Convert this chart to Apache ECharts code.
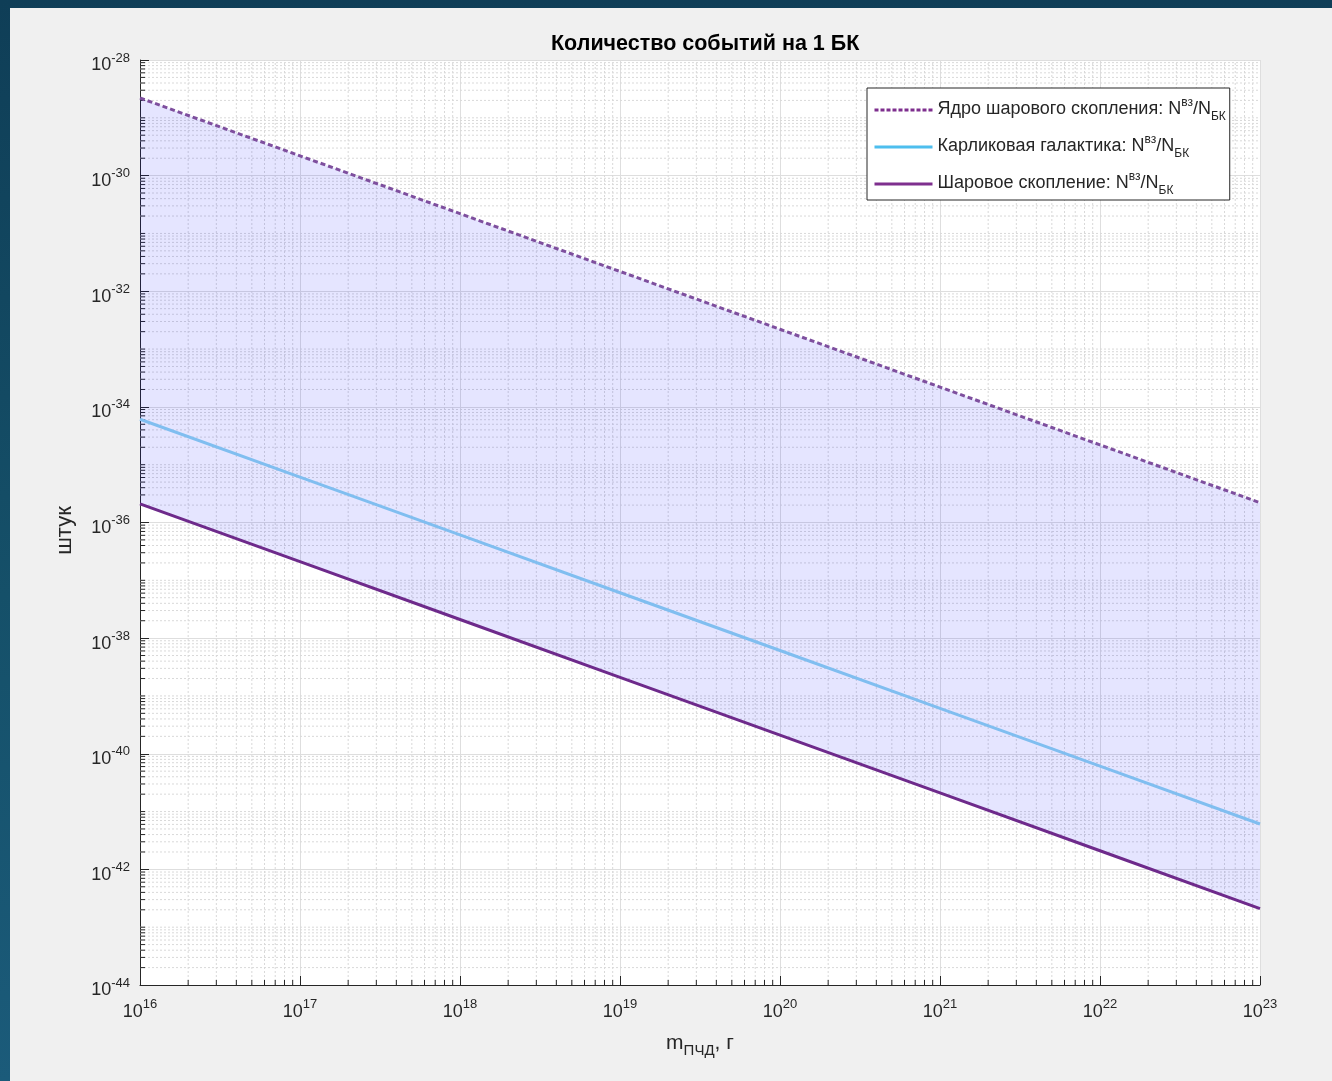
<!DOCTYPE html>
<html><head><meta charset="utf-8">
<script src="https://cdn.jsdelivr.net/npm/echarts@6/dist/echarts.min.js"></script>
<style>
html,body{margin:0;padding:0;width:1332px;height:1081px;overflow:hidden;background:linear-gradient(180deg,#0f3e57 0%,#155069 55%,#1b5b7a 100%);}
#chart{position:absolute;left:10px;top:8px;width:1322px;height:1073px;}
</style></head><body><div id="chart"></div>
<script>
// Mass of PBH, g
const massG = [1e16, 1e17, 1e18, 1e19, 1e20, 1e21, 1e22, 1e23];
// Events per 1 BK
const coreCluster     = [2.2e-29, 2.2e-30, 2.2e-31, 2.2e-32, 2.2e-33, 2.2e-34, 2.2e-35, 2.2e-36];
const dwarfGalaxy     = [6.1e-35, 6.1e-36, 6.1e-37, 6.1e-38, 6.1e-39, 6.1e-40, 6.1e-41, 6.1e-42];
const globularCluster = [2.1e-36, 2.1e-37, 2.1e-38, 2.1e-39, 2.1e-40, 2.1e-41, 2.1e-42, 2.1e-43];
const seriesNames = [
  'Ядро шарового скопления',
  'Карликовая галактика',
  'Шаровое скопление'
];
const titleText = 'Количество событий на 1 БК';
// axis ranges (decade exponents)
const xDecades = [16, 17, 18, 19, 20, 21, 22, 23];
const yDecades = [-44, -43, -42, -41, -40, -39, -38, -37, -36, -35, -34, -33, -32, -31, -30, -29, -28];

const FONT = '"Liberation Sans", Arial, Helvetica, sans-serif';
const TXT = '#262626';
const lg = Math.log10;

// the axes are logarithmic: positions go through log10 before the value axes
const pairs = ys => massG.map((x, i) => [lg(x), lg(ys[i])]);

const chart = echarts.init(document.getElementById('chart'));

function minorGrid(params, api) {
  const children = [];
  const xmin = xDecades[0], xmax = xDecades[xDecades.length - 1];
  const ymin = yDecades[0], ymax = yDecades[yDecades.length - 1];
  const dash = { stroke: '#d9d9d9', lineWidth: 1, lineDash: [2, 2] };
  const tick = { stroke: TXT, lineWidth: 1 };
  for (let d = 0; d < xDecades.length - 1; d++) {
    for (let k = 2; k <= 9; k++) {
      const v = lg(k * Math.pow(10, xDecades[d]));
      const a = api.coord([v, ymin]), b = api.coord([v, ymax]);
      children.push({ type: 'line', shape: { x1: a[0], y1: a[1], x2: b[0], y2: b[1] }, style: dash, silent: true });
      children.push({ type: 'line', shape: { x1: a[0], y1: a[1], x2: a[0], y2: a[1] - 5 }, style: tick, silent: true });
    }
  }
  for (let d = 0; d < yDecades.length - 1; d++) {
    for (let k = 1; k <= 9; k++) {
      if (k === 1 && yDecades[d] % 2 === 0) continue;
      const v = lg(k * Math.pow(10, yDecades[d]));
      const a = api.coord([xmin, v]), b = api.coord([xmax, v]);
      children.push({ type: 'line', shape: { x1: a[0], y1: a[1], x2: b[0], y2: b[1] }, style: dash, silent: true });
      children.push({ type: 'line', shape: { x1: a[0], y1: a[1], x2: a[0] + 5, y2: a[1] }, style: tick, silent: true });
    }
  }
  return { type: 'group', children };
}

function band(params, api) {
  const pts = [];
  for (let i = 0; i < massG.length; i++) pts.push(api.coord([lg(massG[i]), lg(coreCluster[i])]));
  for (let i = massG.length - 1; i >= 0; i--) pts.push(api.coord([lg(massG[i]), lg(globularCluster[i])]));
  return { type: 'polygon', shape: { points: pts }, style: { fill: 'rgba(0,0,255,0.1)' }, silent: true };
}

const supLabel = v => '{b|10}{e|' + Math.round(v) + '}';
const tickRich = {
  b: { fontSize: 18, fontFamily: FONT, color: TXT, lineHeight: 23, verticalAlign: 'bottom' },
  e: { fontSize: 13, fontFamily: FONT, color: TXT, lineHeight: 14, verticalAlign: 'top' }
};

const legendRich = {
  n: { fontSize: 18, fontFamily: FONT, color: TXT, lineHeight: 26, verticalAlign: 'bottom', padding: [0, 0, 5, 0] },
  sup: { fontSize: 12, fontFamily: FONT, color: TXT, lineHeight: 14, verticalAlign: 'top' },
  sub: { fontSize: 12, fontFamily: FONT, color: TXT, lineHeight: 14, verticalAlign: 'bottom' }
};

const option = {
  backgroundColor: '#f0f0f0',
  animation: false,
  title: {
    text: titleText,
    left: 536, top: 20,
    textStyle: { fontFamily: FONT, fontSize: 21.5, fontWeight: 'bold', color: '#000' }
  },
  grid: { left: 130, top: 52, right: 72, bottom: 96, containLabel: false, show: true, backgroundColor: '#ffffff', borderWidth: 0 },
  legend: {
    orient: 'vertical',
    left: 857, top: 80,
    padding: [9, 4, 3, 6],
    itemGap: 11,
    itemWidth: 58, itemHeight: 14,
    backgroundColor: '#ffffff',
    borderColor: '#262626', borderWidth: 1, borderRadius: 0,
    itemStyle: { opacity: 0 },
    data: [
      { name: seriesNames[0], lineStyle: { color: '#7E2F8E', width: 3, type: [4, 2] } },
      { name: seriesNames[1], lineStyle: { color: '#4DBEEE', width: 3 } },
      { name: seriesNames[2], lineStyle: { color: '#7E2F8E', width: 3 } }
    ],
    formatter: name => '{n|' + name + ': N}{sup|вз}{n|/N}{sub|БК}',
    textStyle: { rich: legendRich, fontFamily: FONT, fontSize: 18, color: TXT }
  },
  xAxis: {
    type: 'value',
    min: xDecades[0], max: xDecades[xDecades.length - 1], interval: 1,
    name: '{m|m}{s|ПЧД}{m|, г}',
    nameLocation: 'middle', nameGap: 47,
    nameTextStyle: {
      rich: {
        m: { fontSize: 21, fontFamily: FONT, color: TXT, lineHeight: 26, verticalAlign: 'bottom', padding: [0, 0, 4, 0] },
        s: { fontSize: 15, fontFamily: FONT, color: TXT, lineHeight: 14, verticalAlign: 'bottom' }
      }
    },
    axisLine: { show: true, lineStyle: { color: TXT, width: 1 } },
    axisTick: { show: true, inside: true, length: 9, lineStyle: { color: TXT } },
    axisLabel: { margin: 13, formatter: supLabel, rich: tickRich },
    splitLine: { show: true, lineStyle: { color: '#dedede', width: 1 } }
  },
  yAxis: {
    type: 'value',
    min: yDecades[0], max: yDecades[yDecades.length - 1], interval: 2,
    name: 'штук',
    nameLocation: 'middle', nameGap: 64,
    nameTextStyle: { fontSize: 22, fontFamily: FONT, color: TXT, padding: [0, 16, 0, 0] },
    axisLine: { show: true, lineStyle: { color: TXT, width: 1 } },
    axisTick: { show: true, inside: true, length: 9, lineStyle: { color: TXT } },
    axisLabel: { margin: 10, formatter: supLabel, rich: tickRich, padding: [6, 0, 0, 0] },
    splitLine: { show: true, lineStyle: { color: '#dedede', width: 1 } }
  },
  series: [
    { type: 'custom', name: 'minorGrid', renderItem: minorGrid, data: [[xDecades[0], yDecades[0]]], z: 1, silent: true, clip: false },
    { type: 'custom', name: 'band', renderItem: band, data: [[xDecades[0], yDecades[0]]], z: 2, silent: true, clip: false },
    {
      type: 'line', name: seriesNames[0], data: pairs(coreCluster), symbol: 'none', z: 4,
      lineStyle: { color: '#7E4F9E', width: 3, type: [5, 3] }, itemStyle: { color: '#7E2F8E' }
    },
    {
      type: 'line', name: seriesNames[1], data: pairs(dwarfGalaxy), symbol: 'none', z: 4,
      lineStyle: { color: '#80BEF0', width: 3 }, itemStyle: { color: '#4DBEEE' }
    },
    {
      type: 'line', name: seriesNames[2], data: pairs(globularCluster), symbol: 'none', z: 4,
      lineStyle: { color: '#6E2A8B', width: 3 }, itemStyle: { color: '#7E2F8E' }
    }
  ]
};
chart.setOption(option);
</script></body></html>
